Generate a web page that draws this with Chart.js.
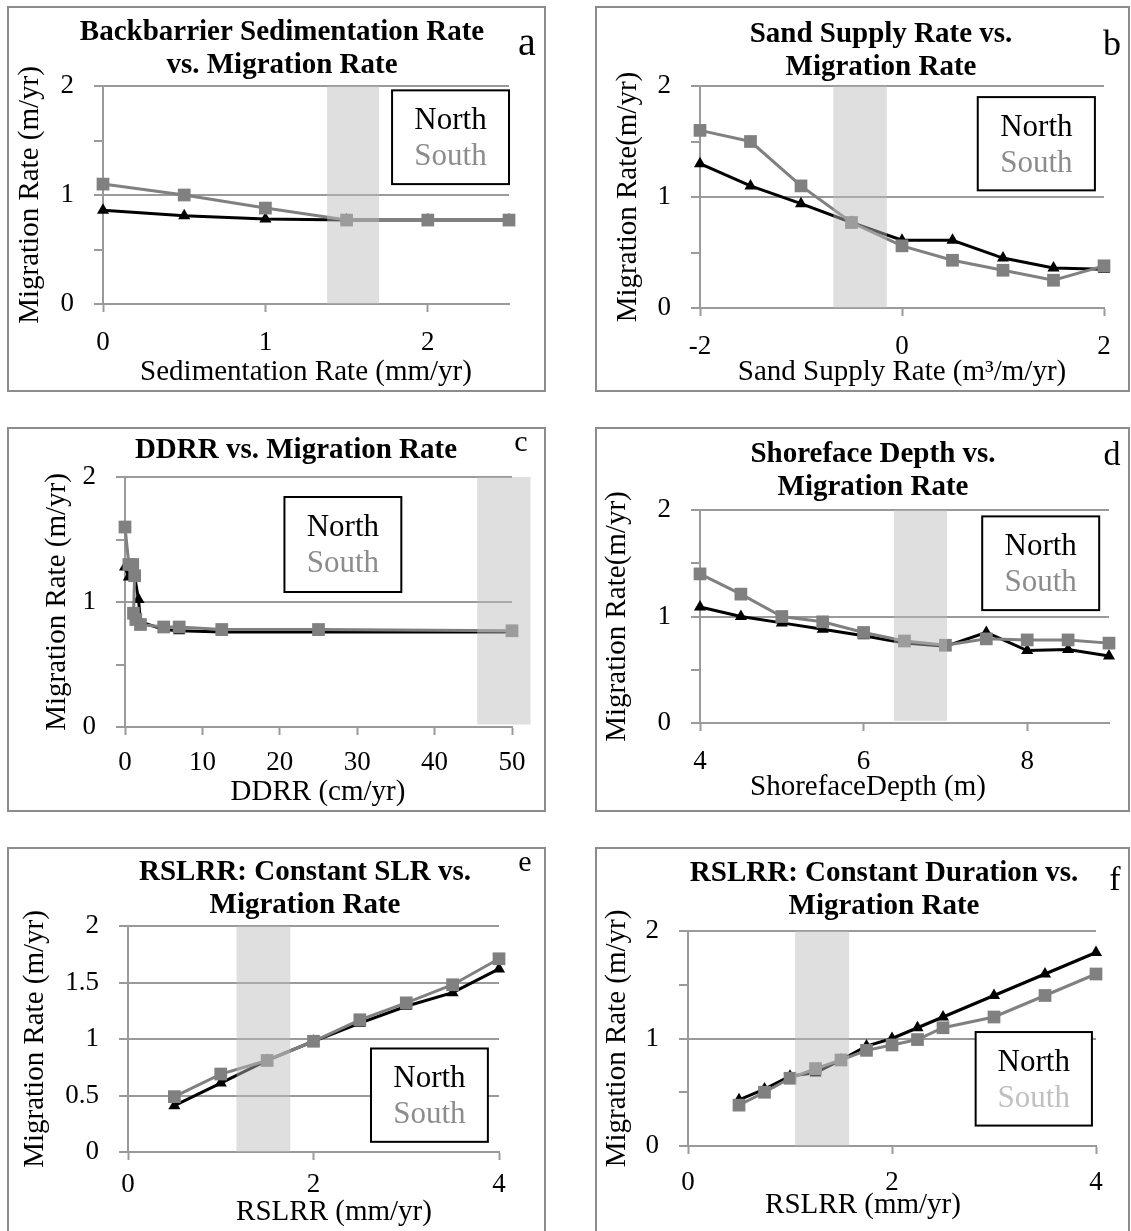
<!DOCTYPE html>
<html>
<head>
<meta charset="utf-8">
<script src="https://cdn.jsdelivr.net/npm/chart.js@4"></script>
<style>
  body { margin:0; background:#fff; width:1131px; height:1231px; overflow:hidden; position:relative; }
  .panel { position:absolute; box-sizing:border-box; border:2px solid #8c8c8c; background:#fff; }
  .panel canvas { position:absolute; left:0; top:0; }
</style>
</head>
<body>
<div class="panel" id="pa"><canvas></canvas></div>
<div class="panel" id="pb"><canvas></canvas></div>
<div class="panel" id="pc"><canvas></canvas></div>
<div class="panel" id="pd"><canvas></canvas></div>
<div class="panel" id="pe"><canvas></canvas></div>
<div class="panel" id="pf"><canvas></canvas></div>
<script>
// ---- datos ----
const seriesNames = ['North', 'South'];
const yTicks  = [0, 0.5, 1, 1.5, 2];
const yMajor  = [0, 1, 2];

// a: sedimentacion backbarrier
const aX      = [0, 0.5, 1, 1.5, 2, 2.5];
const aNorth  = [0.86, 0.81, 0.78, 0.77, 0.77, 0.77];
const aSouth  = [1.10, 1.00, 0.88, 0.77, 0.77, 0.77];
const aBand   = [1.38, 1.70];
const aXTicks = [0, 1, 2];

// b: aporte de arena
const bX      = [-2, -1.5, -1, -0.5, 0, 0.5, 1, 1.5, 2];
const bNorth  = [1.30, 1.10, 0.94, 0.77, 0.61, 0.61, 0.45, 0.36, 0.35];
const bSouth  = [1.60, 1.50, 1.10, 0.77, 0.56, 0.43, 0.34, 0.25, 0.38];
const bBand   = [-0.68, -0.15];
const bXTicks = [-2, 0, 2];

// c: DDRR
const cNorthX = [0, 0.5, 1.25, 1.75, 2, 5, 7, 12.5, 25, 50];
const cNorth  = [1.28, 1.20, 1.20, 1.02, 0.84, 0.78, 0.77, 0.76, 0.76, 0.76];
const cSouthX = [0, 0.5, 1, 1.25, 1.1, 1.4, 2, 5, 7, 12.5, 25, 50];
const cSouth  = [1.60, 1.30, 1.30, 1.21, 0.91, 0.86, 0.82, 0.80, 0.80, 0.78, 0.78, 0.77];
const cBand   = [45.5, 52.4];
const cXTicks = [0, 10, 20, 30, 40, 50];

// d: profundidad shoreface
const dX      = [4, 4.5, 5, 5.5, 6, 6.5, 7, 7.5, 8, 8.5, 9];
const dNorth  = [1.09, 1.00, 0.94, 0.88, 0.82, 0.75, 0.72, 0.85, 0.68, 0.69, 0.63];
const dSouth  = [1.40, 1.21, 1.00, 0.95, 0.85, 0.77, 0.73, 0.79, 0.78, 0.78, 0.75];
const dBand   = [6.37, 7.02];
const dXTicks = [4, 6, 8];

// e: RSLRR SLR constante
const eX      = [0.5, 1, 1.5, 2, 2.5, 3, 3.5, 4];
const eNorth  = [0.41, 0.61, 0.81, 0.98, 1.14, 1.29, 1.41, 1.62];
const eSouth  = [0.49, 0.69, 0.81, 0.98, 1.17, 1.32, 1.48, 1.71];
const eBand   = [1.17, 1.75];
const eXTicks = [0, 2, 4];

// f: RSLRR duracion constante
const fX      = [0.5, 0.75, 1, 1.25, 1.5, 1.75, 2, 2.25, 2.5, 3, 3.5, 4];
const fNorth  = [0.43, 0.53, 0.65, 0.68, 0.80, 0.93, 1.00, 1.10, 1.20, 1.40, 1.60, 1.80];
const fSouth  = [0.38, 0.50, 0.63, 0.72, 0.80, 0.89, 0.94, 0.99, 1.10, 1.20, 1.40, 1.60];
const fBand   = [1.05, 1.58];
const fXTicks = [0, 2, 4];

// ---- estilos ----
const FONT  = "'Liberation Serif', 'Times New Roman', serif";
const GRID  = '#9a9a9a';
const BLACK = '#000000';
const GREY  = '#808080';
const TF = 29, TLH = 32.5; // titulo
const AF = 29;             // titulos de eje
const KF = 27;             // ticks
const LF = 31;             // leyenda

// posiciones en pagina
const panels = [
  { id:'pa', box:[7,6,539,386], plot:[103,509,86,304], xr:[0,2.5], xTicks:aXTicks, yGrid:yMajor, yLab:yMajor,
    xn:aX, north:aNorth, xs:aX, south:aSouth, band:aBand, bandY:[0,2],
    title:['Backbarrier Sedimentation Rate','vs. Migration Rate'], titleX:282, titleBase:40,
    yTitle:'Migration Rate (m/yr)', yTitleX:30.5, xTitle:'Sedimentation Rate (mm/yr)', xTitleX:306, xTitleBase:380,
    xTickPad:15, legend:[1.78,2.5,1.10,1.96], southColor:'#8c8c8c', letter:['a',527,55,40] },
  { id:'pb', box:[595,6,535,386], plot:[700,1104,86,308], xr:[-2,2], xTicks:bXTicks, yGrid:yMajor, yLab:yMajor,
    xn:bX, north:bNorth, xs:bX, south:bSouth, band:bBand, bandY:[0,2],
    title:['Sand Supply Rate vs.','Migration Rate'], titleX:881, titleBase:42,
    yTitle:'Migration Rate(m/yr)', yTitleX:628.5, xTitle:'Sand Supply Rate (m\u00B3/m/yr)', xTitleX:902, xTitleBase:380,
    xTickPad:15, legend:[0.75,1.91,1.06,1.90], southColor:'#8c8c8c', letter:['b',1112,55,36] },
  { id:'pc', box:[7,427,539,385], plot:[125,512,477,727], xr:[0,50], xTicks:cXTicks, yGrid:yMajor, yLab:yMajor,
    xn:cNorthX, north:cNorth, xs:cSouthX, south:cSouth, band:cBand, bandY:[0.02,2],
    title:['DDRR vs. Migration Rate'], titleX:296, titleBase:458,
    yTitle:'Migration Rate (m/yr)', yTitleX:57.5, xTitle:'DDRR (cm/yr)', xTitleX:318, xTitleBase:800,
    xTickPad:12, legend:[20.6,35.7,1.08,1.84], southColor:'#8c8c8c', letter:['c',521,451,30] },
  { id:'pd', box:[595,427,535,385], plot:[700,1109,510,723], xr:[4,9], xTicks:dXTicks, yGrid:yMajor, yLab:yMajor,
    xn:dX, north:dNorth, xs:dX, south:dSouth, band:dBand, bandY:[0.02,2],
    title:['Shoreface Depth vs.','Migration Rate'], titleX:873, titleBase:462,
    yTitle:'Migration Rate(m/yr)', yTitleX:617.5, xTitle:'ShorefaceDepth (m)', xTitleX:868, xTitleBase:795,
    xTickPad:15, legend:[7.45,8.88,1.06,1.94], southColor:'#8c8c8c', letter:['d',1112,465,34] },
  { id:'pe', box:[7,847,539,392], plot:[128,499,926,1152], xr:[0,4], xTicks:eXTicks, yGrid:yTicks, yLab:yTicks,
    xn:eX, north:eNorth, xs:eX, south:eSouth, band:eBand, bandY:[0,2],
    title:['RSLRR: Constant SLR vs.','Migration Rate'], titleX:305, titleBase:880,
    yTitle:'Migration Rate (m/yr)', yTitleX:35.5, xTitle:'RSLRR (mm/yr)', xTitleX:334, xTitleBase:1220,
    xTickPad:9, legend:[2.62,3.88,0.09,0.916], southColor:'#8c8c8c', letter:['e',525,871,30] },
  { id:'pf', box:[595,847,535,392], plot:[688,1096,931,1146], xr:[0,4], xTicks:fXTicks, yGrid:yMajor, yLab:yMajor,
    xn:fX, north:fNorth, xs:fX, south:fSouth, band:fBand, bandY:[0,2],
    title:['RSLRR: Constant Duration vs.','Migration Rate'], titleX:884, titleBase:881,
    yTitle:'Migration Rate (m/yr)', yTitleX:617.5, xTitle:'RSLRR (mm/yr)', xTitleX:863, xTitleBase:1213,
    xTickPad:13, legend:[2.82,3.96,0.19,1.06], southColor:'#c0c0c0', letter:['f',1115,890,34] }
];

// banda sombreada, leyenda, titulos y letra del panel
const decor = {
  id: 'decor',
  afterDatasetsDraw(chart, args, o) {
    const { ctx, scales: { x, y } } = chart;
    const x0 = x.getPixelForValue(o.band[0]), x1 = x.getPixelForValue(o.band[1]);
    const y0 = y.getPixelForValue(o.bandY[1]), y1 = y.getPixelForValue(o.bandY[0]);
    ctx.save();
    ctx.fillStyle = 'rgba(186,186,186,0.47)';
    ctx.fillRect(x0, y0, x1 - x0, y1 - y0);
    ctx.restore();
  },
  afterDraw(chart, args, o) {
    const { ctx, scales: { x, y } } = chart;
    const L = x.getPixelForValue(o.legend[0]), R = x.getPixelForValue(o.legend[1]);
    const T = y.getPixelForValue(o.legend[3]), B = y.getPixelForValue(o.legend[2]);
    ctx.save();
    ctx.fillStyle = '#fff'; ctx.fillRect(L, T, R - L, B - T);
    ctx.strokeStyle = '#000'; ctx.lineWidth = 2; ctx.strokeRect(L, T, R - L, B - T);
    ctx.textAlign = 'center'; ctx.textBaseline = 'alphabetic';
    ctx.font = `${LF}px ${FONT}`;
    ctx.fillStyle = '#000';        ctx.fillText(seriesNames[0], (L + R) / 2, T + 39);
    ctx.fillStyle = o.southColor;  ctx.fillText(seriesNames[1], (L + R) / 2, T + 75);
    ctx.fillStyle = '#000';
    ctx.font = `bold ${TF}px ${FONT}`;
    o.title.forEach((t, i) => ctx.fillText(t, o.titleX, o.titleY + i * TLH));
    ctx.font = `${AF}px ${FONT}`;
    ctx.fillText(o.xTitle, o.xTitleX, o.xTitleY);
    ctx.font = `${o.letter[3]}px ${FONT}`;
    ctx.fillText(o.letter[0], o.letter[1], o.letter[2]);
    ctx.restore();
  }
};

const pts = (xs, ys) => xs.map((v, i) => ({ x: v, y: ys[i] }));

function makePanel(p) {
  const wrap = document.getElementById(p.id);
  const [bx, by, bw, bh] = p.box;
  Object.assign(wrap.style, { left: bx + 'px', top: by + 'px', width: bw + 'px', height: bh + 'px' });
  const cx = bx + 2, cy = by + 2, cw = bw - 4, ch = bh - 4;
  const canvas = wrap.querySelector('canvas');
  canvas.width = cw; canvas.height = ch;
  canvas.style.width = cw + 'px'; canvas.style.height = ch + 'px';

  const L = p.plot[0] - cx, R = p.plot[1] - cx, T = p.plot[2] - cy, B = p.plot[3] - cy;
  const yPt = (p.yTitleX - cx) - AF * 0.6;

  new Chart(canvas, {
    type: 'line',
    data: { datasets: [
      { label: seriesNames[1], data: pts(p.xs, p.south), borderColor: GREY, backgroundColor: GREY,
        borderWidth: 3, pointStyle: 'rect', pointRadius: 9, pointBorderWidth: 0, clip: false, order: 0 },
      { label: seriesNames[0], data: pts(p.xn, p.north), borderColor: BLACK, backgroundColor: BLACK,
        borderWidth: 3, pointStyle: 'triangle', pointRadius: 7, pointBorderWidth: 0, clip: false, order: 1 }
    ]},
    options: {
      responsive: false, animation: false, devicePixelRatio: 1,
      layout: { padding: { left: 0, right: cw - R, top: T, bottom: 0 } },
      plugins: {
        legend: { display: false }, tooltip: { enabled: false }, title: { display: false },
        decor: { band: p.band, bandY: p.bandY, legend: p.legend, southColor: p.southColor,
          title: p.title, titleX: p.titleX - cx, titleY: p.titleBase - cy,
          xTitle: p.xTitle, xTitleX: p.xTitleX - cx, xTitleY: p.xTitleBase - cy,
          letter: [p.letter[0], p.letter[1] - cx, p.letter[2] - cy, p.letter[3]] }
      },
      scales: {
        x: {
          type: 'linear', min: p.xr[0], max: p.xr[1],
          afterBuildTicks: s => { s.ticks = p.xTicks.map(v => ({ value: v })); },
          afterFit: s => { s.height = ch - B; s.paddingLeft = 0; s.paddingRight = 0; },
          grid: { drawOnChartArea: false, drawTicks: true, tickLength: 8, tickColor: GRID, tickWidth: 2 },
          border: { color: GRID, width: 2 },
          ticks: { color: '#000', font: { family: FONT, size: KF }, padding: p.xTickPad, maxRotation: 0, autoSkip: false }
        },
        y: {
          type: 'linear', min: 0, max: 2,
          afterBuildTicks: s => { s.ticks = yTicks.map(v => ({ value: v })); },
          afterFit: s => { s.width = L; s.paddingTop = 0; s.paddingBottom = 0; },
          grid: { color: c => (c.tick && p.yGrid.includes(c.tick.value)) ? GRID : 'rgba(0,0,0,0)',
                  lineWidth: 2, tickLength: 9, tickColor: GRID, tickWidth: 2 },
          border: { color: GRID, width: 2 },
          ticks: { color: '#000', font: { family: FONT, size: KF }, padding: 20, autoSkip: false,
                   callback: v => p.yLab.includes(v) ? String(v) : '' },
          title: { display: true, text: p.yTitle, color: '#000', font: { family: FONT, size: AF },
                   padding: { top: yPt, bottom: 0 } }
        }
      }
    },
    plugins: [decor]
  });
}

panels.forEach(makePanel);
</script>
</body>
</html>
